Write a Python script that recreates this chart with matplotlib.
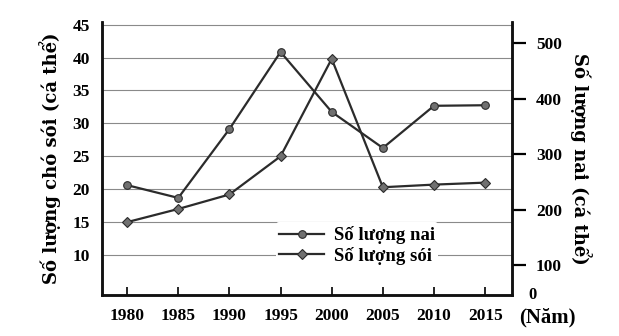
import matplotlib.pyplot as plt
import matplotlib.transforms as mtransforms

# số liệu
years = [1980, 1985, 1990, 1995, 2000, 2005, 2010, 2015]
nai = [244, 221, 345, 484, 376, 311, 387, 388]          # trục phải
soi = [15.0, 17.0, 19.2, 25.0, 39.8, 20.3, 20.7, 21.0]  # trục trái
left_ticks = [10, 15, 20, 25, 30, 35, 40, 45]
right_ticks = [100, 200, 300, 400, 500]

font = "Liberation Serif"
plt.rcParams["font.family"] = [font, "DejaVu Serif"]
plt.rcParams["font.weight"] = "bold"

fig = plt.figure(figsize=(6.19, 3.36), dpi=100)
ax1 = fig.add_axes([0.165, 0.122, 0.6624, 0.8125])
ax2 = ax1.twinx()

line_col = "#2b2b2b"
mark_col = "#707070"

l_soi, = ax1.plot(years, soi, color=line_col, lw=1.6, marker="D", ms=5.5,
                  mfc=mark_col, mec=line_col, mew=0.8, label="Số lượng sói", zorder=3)
l_nai, = ax2.plot(years, nai, color=line_col, lw=1.6, marker="o", ms=5.5,
                  mfc=mark_col, mec=line_col, mew=0.8, label="Số lượng nai", zorder=3)

ax1.set_xlim(1977.56, 2017.64)
ax1.set_ylim(3.93, 45.4)
ax2.set_ylim(46, 538)

ax1.set_yticks(left_ticks)
ax2.set_yticks(right_ticks)
ax1.set_xticks(years)

ax1.grid(axis="y", color="#8a8a8a", lw=0.8)
ax1.set_axisbelow(True)

for ax in (ax1, ax2):
    ax.spines["top"].set_visible(False)
    for s in ("left", "right", "bottom"):
        ax.spines[s].set_linewidth(1.8)
        ax.spines[s].set_color("#111111")

ax1.tick_params(axis="y", length=0, pad=9, labelsize=12.5)
ax1.tick_params(axis="x", direction="in", length=6, width=1.2, pad=9, labelsize=12.5)
ax2.tick_params(axis="y", direction="out", length=10, width=1.6, pad=7, labelsize=12.5)

lab_font = dict(family="DejaVu Serif", fontsize=13, fontweight="bold")
ax1.set_ylabel("Số lượng chó sói (cá thể)", labelpad=8, **lab_font)
ax2.set_ylabel("Số lượng nai (cá thể)", rotation=-90, labelpad=22, **lab_font)

trans = mtransforms.blended_transform_factory(ax1.transAxes, ax1.transAxes)
ax1.text(1.05, 0.0, "0", transform=trans, ha="center", va="center", fontsize=12)
ax1.text(1.085, -0.083, "(Năm)", transform=trans, ha="center", va="center", fontsize=15)

leg = ax2.legend(handles=[l_nai, l_soi], loc="upper left", bbox_to_anchor=(0.4, 0.3),
                 frameon=True, framealpha=1, edgecolor="none", fontsize=13.5,
                 handlelength=2.4, handletextpad=0.5, borderpad=0.2, labelspacing=0.15)

fig.savefig("out.png", dpi=100)
